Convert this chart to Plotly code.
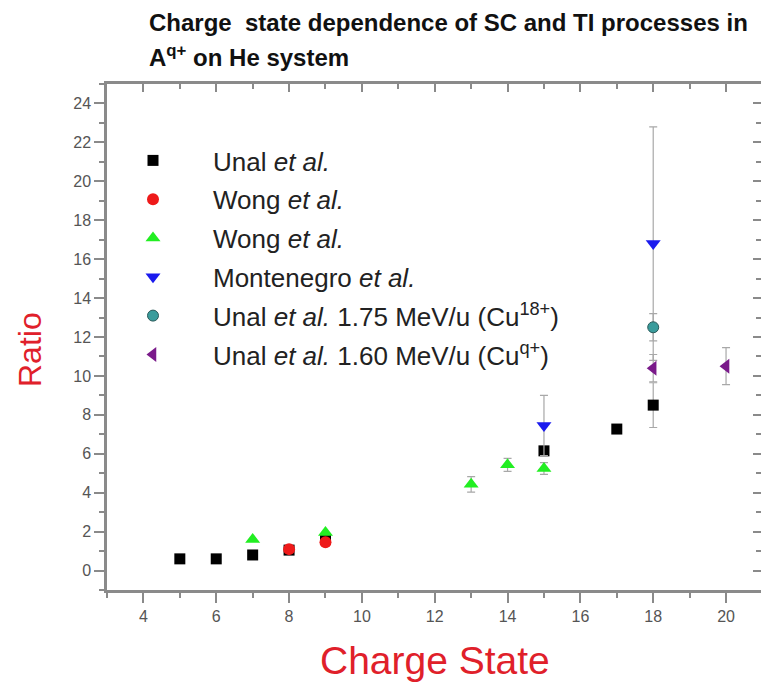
import plotly.graph_objects as go

# ---- data ----
unal_x = [5, 6, 7, 8, 9, 15, 17, 18]
unal_y = [0.6, 0.6, 0.8, 1.05, 1.6, 6.15, 7.27, 8.5]
unal_err = [0, 0, 0, 0, 0, 0, 0.2, 1.15]

wong_c_x = [8, 9]
wong_c_y = [1.1, 1.45]

wong_t_x = [7, 9, 13, 14, 15]
wong_t_y = [1.6, 1.95, 4.43, 5.43, 5.24]
wong_t_err = [0, 0, 0.4, 0.33, 0.3]

mont_x = [15, 18]
mont_y = [7.45, 16.8]
mont_err = [1.55, 6.0]

u175_x = [18]
u175_y = [12.5]
u175_err = [0.7]

u160_x = [18, 20]
u160_y = [10.4, 10.5]
u160_err = [0.7, 0.95]

x_range = [3, 20.96]
y_range = [-1, 25]

W, H = 761, 687
ML, MR, MT, MB = 107, 0, 84, 97
PW, PH = W - ML - MR, H - MT - MB

def px(xp):
    return (xp - ML) / PW

def py(yp):
    return (H - MB - yp) / PH

ERR = "#a8a8a8"

def eb(vals):
    return dict(type="data", array=vals, visible=True, color=ERR, thickness=1.2, width=4)

fig = go.Figure()
fig.add_trace(go.Scatter(x=unal_x, y=unal_y, mode="markers", name="Unal <i>et al.</i>",
                         legendgroup="a", error_y=eb(unal_err),
                         marker=dict(symbol="square", size=11, color="#000000")))
fig.add_trace(go.Scatter(x=wong_c_x, y=wong_c_y, mode="markers", name="Wong <i>et al.</i>",
                         legendgroup="b",
                         marker=dict(symbol="circle", size=12, color="#ee1a1a")))
fig.add_trace(go.Scatter(x=wong_t_x, y=wong_t_y, mode="markers", name="Wong <i>et al.</i>",
                         legendgroup="c", error_y=eb(wong_t_err),
                         marker=dict(symbol="triangle-up", size=13, color="#22ee22")))
fig.add_trace(go.Scatter(x=mont_x, y=mont_y, mode="markers", name="Montenegro <i>et al.</i>",
                         legendgroup="d", error_y=eb(mont_err),
                         marker=dict(symbol="triangle-down", size=13, color="#1a1aee")))
fig.add_trace(go.Scatter(x=u175_x, y=u175_y, mode="markers",
                         name="Unal <i>et al.</i> 1.75 MeV/u (Cu<sup>18+</sup>)",
                         legendgroup="e", error_y=eb(u175_err),
                         marker=dict(symbol="circle", size=11, color="#3a9c9c",
                                     line=dict(color="#2a5a5a", width=1))))
fig.add_trace(go.Scatter(x=u160_x, y=u160_y, mode="markers",
                         name="Unal <i>et al.</i> 1.60 MeV/u (Cu<sup>q+</sup>)",
                         legendgroup="f", error_y=eb(u160_err),
                         marker=dict(symbol="triangle-left", size=13, color="#7a1a8a")))
# invisible trace to carry the mirrored top/right axes
fig.add_trace(go.Scatter(x=[x_range[0]], y=[y_range[0]], xaxis="x2", yaxis="y2",
                         mode="markers", marker=dict(opacity=0), showlegend=False,
                         hoverinfo="skip"))

AX = "#8a8a8a"
FONT = "Liberation Sans, Arial, sans-serif"
TICKF = dict(family=FONT, size=16, color="#555555")

fig.update_layout(
    width=W, height=H,
    margin=dict(l=ML, r=MR, t=MT, b=MB, autoexpand=False),
    paper_bgcolor="white", plot_bgcolor="white",
    showlegend=True,
    xaxis=dict(range=x_range, dtick=2, tick0=0, ticks="outside", ticklen=10, tickwidth=1.5,
               tickcolor=AX, showline=True, linecolor=AX, linewidth=2.5, showgrid=False,
               zeroline=False, tickfont=TICKF, automargin=False,
               minor=dict(dtick=1, ticks="outside", ticklen=5, tickcolor=AX, tickwidth=1.5)),
    yaxis=dict(range=y_range, dtick=2, tick0=0, ticks="outside", ticklen=10, tickwidth=1.5,
               tickcolor=AX, showline=True, linecolor=AX, linewidth=2.5, showgrid=False,
               zeroline=False, tickfont=TICKF, automargin=False,
               minor=dict(dtick=1, ticks="outside", ticklen=5, tickcolor=AX, tickwidth=1.5)),
    xaxis2=dict(range=x_range, overlaying="x", side="top", dtick=2, tick0=0, ticks="inside",
                ticklen=8, tickwidth=1.5, tickcolor=AX, showline=True, linecolor=AX, linewidth=2.5,
                showticklabels=False, showgrid=False, zeroline=False,
                minor=dict(dtick=1, ticks="inside", ticklen=5, tickcolor=AX, tickwidth=1.5)),
    yaxis2=dict(range=y_range, overlaying="y", side="right", dtick=2, tick0=0, ticks="inside",
                ticklen=8, tickwidth=1.5, tickcolor=AX, showline=True, linecolor=AX, linewidth=2.5,
                showticklabels=False, showgrid=False, zeroline=False,
                minor=dict(dtick=1, ticks="inside", ticklen=5, tickcolor=AX, tickwidth=1.5)),
    legend=dict(x=px(93), y=py(137), xanchor="left", yanchor="top", bgcolor="rgba(0,0,0,0)",
                itemwidth=110, tracegroupgap=2,
                font=dict(family=FONT, size=26, color="#222222")),
)

# axis titles
fig.add_annotation(text="Charge State", xref="paper", yref="paper", x=px(435), y=py(660),
                   xanchor="center", yanchor="middle", showarrow=False,
                   font=dict(family=FONT, size=39, color="#e0202a"))
fig.add_annotation(text="Ratio", xref="paper", yref="paper", x=px(30), y=py(350),
                   xanchor="center", yanchor="middle", showarrow=False, textangle=-90,
                   font=dict(family=FONT, size=32, color="#e0202a"))

TITLEF = dict(family="Liberation Sans, Arial, sans-serif", size=24, color="#111111")
fig.add_annotation(text="<b>Charge  state dependence of SC and TI processes in</b>",
                   xref="paper", yref="paper", x=px(147), y=py(22),
                   xanchor="left", yanchor="middle", showarrow=False, font=TITLEF)
fig.add_annotation(text="<b>A<sup>q+</sup> on He system</b>",
                   xref="paper", yref="paper", x=px(147), y=py(56),
                   xanchor="left", yanchor="middle", showarrow=False, font=TITLEF)

fig.write_html("out.html", config={"displayModeBar": False},
               post_script="document.body.style.margin='0px';")
